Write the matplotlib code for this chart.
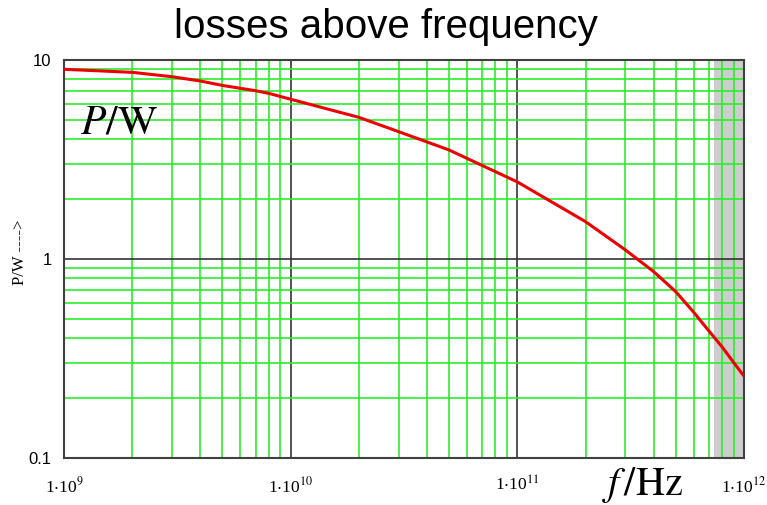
import matplotlib
matplotlib.use("Agg")
import matplotlib.pyplot as plt
from matplotlib.ticker import LogLocator, NullFormatter

# losses vs frequency
freq = [1e9, 2e9, 3e9, 4e9, 5e9, 7e9, 8e9, 1e10, 2e10, 3e10, 5e10,
        1e11, 2e11, 3e11, 4e11, 5e11, 6e11, 7e11, 8e11, 9e11, 1e12]
power = [8.98, 8.67, 8.24, 7.84, 7.45, 7.01, 6.80, 6.35, 5.15, 4.36, 3.53,
         2.44, 1.54, 1.11, 0.863, 0.685, 0.540, 0.435, 0.362, 0.302, 0.258]

band = [7.4e11, 1e12]
xticks = [1e9, 1e10, 1e11, 1e12]
xlabels = [r"1$\cdot$10$^{9}$", r"1$\cdot$10$^{10}$", r"1$\cdot$10$^{11}$", r"1$\cdot$10$^{12}$"]
yticks = [0.1, 1, 10]
ylabels = ["0.1", "1", "10"]

plt.rcParams["mathtext.fontset"] = "stix"

fig = plt.figure(figsize=(7.67, 5.05), dpi=100)
ax = fig.add_axes([64 / 767, 1 - 458 / 505, 680 / 767, 398 / 505])

ax.set_xscale("log")
ax.set_yscale("log")
ax.set_xlim(1e9, 1e12)
ax.set_ylim(0.1, 10)

ax.axvspan(band[0], band[1], color="#cdcdcd", lw=0, zorder=0)

ax.xaxis.set_minor_locator(LogLocator(base=10, subs=range(2, 10)))
ax.yaxis.set_minor_locator(LogLocator(base=10, subs=range(2, 10)))
ax.xaxis.set_minor_formatter(NullFormatter())
ax.yaxis.set_minor_formatter(NullFormatter())
ax.grid(which="minor", color="#2aee2a", lw=1.2)
ax.grid(which="major", color="#333333", lw=1.2)

ax.plot(freq, power, color="#ee0000", lw=2.2, zorder=3)

ax.set_xticks(xticks)
ax.set_xticklabels(xlabels, fontfamily="Liberation Serif", fontsize=12.5)
ax.set_yticks(yticks)
ax.set_yticklabels(ylabels, fontfamily="Liberation Sans", fontsize=12)
ax.tick_params(which="both", length=0)
ax.tick_params(axis="x", pad=13)
ax.tick_params(axis="y", pad=9)

for s in ax.spines.values():
    s.set_color("#404040")
    s.set_linewidth(1.5)

fig.text(0.503, 1 - 8 / 505, "losses above frequency", ha="center", va="top",
         fontfamily="Liberation Sans", fontsize=29)
fig.text(80 / 767, 1 - 133 / 505, r"$P/\mathrm{W}$", fontsize=30, ha="left", va="baseline")
fig.text(602 / 767, 1 - 495 / 505, r"$f\,/\mathrm{Hz}$", fontsize=29, ha="left", va="baseline")
fig.text(20 / 767, 1 - 252 / 505, "P/W ---->", rotation=90, ha="center", va="center",
         fontfamily="Liberation Serif", fontsize=12)

fig.savefig("out.png", dpi=100)
